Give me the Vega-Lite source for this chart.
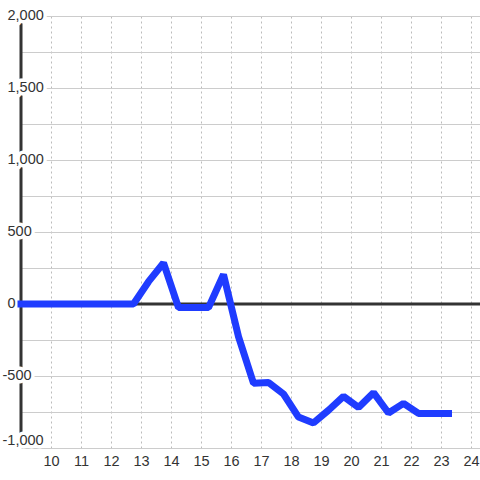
{
  "$schema": "https://vega.github.io/schema/vega-lite/v6.json",
  "width": 459,
  "height": 432,
  "autosize": "none",
  "padding": {"left": 21, "top": 16, "right": 0, "bottom": 32},
  "background": "white",
  "config": {"view": {"stroke": null}},
  "datasets": {
    "series": [
      {"t": 9.0, "v": 0},
      {"t": 9.25, "v": 0},
      {"t": 9.75, "v": 0},
      {"t": 10.25, "v": 0},
      {"t": 10.75, "v": 0},
      {"t": 11.25, "v": 0},
      {"t": 11.75, "v": 0},
      {"t": 12.25, "v": 0},
      {"t": 12.75, "v": 0},
      {"t": 13.25, "v": 155},
      {"t": 13.75, "v": 285},
      {"t": 14.25, "v": -25},
      {"t": 14.75, "v": -25},
      {"t": 15.25, "v": -25},
      {"t": 15.75, "v": 205},
      {"t": 16.25, "v": -227},
      {"t": 16.75, "v": -550},
      {"t": 17.25, "v": -545},
      {"t": 17.75, "v": -625},
      {"t": 18.25, "v": -785},
      {"t": 18.75, "v": -826},
      {"t": 19.25, "v": -738},
      {"t": 19.75, "v": -642},
      {"t": 20.25, "v": -718},
      {"t": 20.75, "v": -616},
      {"t": 21.25, "v": -757},
      {"t": 21.75, "v": -690},
      {"t": 22.25, "v": -760},
      {"t": 22.75, "v": -760},
      {"t": 23.25, "v": -760}
    ],
    "yticks": [
      {"v": -1000, "label": "-1,000"},
      {"v": -500, "label": "-500"},
      {"v": 0, "label": "0"},
      {"v": 500, "label": "500"},
      {"v": 1000, "label": "1,000"},
      {"v": 1500, "label": "1,500"},
      {"v": 2000, "label": "2,000"}
    ]
  },
  "encoding": {
    "x": {
      "type": "quantitative",
      "scale": {"domain": [9, 24.3], "nice": false, "zero": false},
      "axis": {
        "title": null,
        "values": [10, 11, 12, 13, 14, 15, 16, 17, 18, 19, 20, 21, 22, 23, 24],
        "grid": true,
        "gridDash": [2, 3],
        "gridColor": "#bbbbbb",
        "ticks": false,
        "domain": false,
        "labelPadding": 6,
        "labelFont": "Liberation Sans",
        "labelFontSize": 14.5,
        "labelColor": "#333333"
      }
    },
    "y": {
      "type": "quantitative",
      "scale": {"domain": [-1000, 2000], "nice": false, "zero": false},
      "axis": {
        "title": null,
        "values": [-1000, -750, -500, -250, 0, 250, 500, 750, 1000, 1250, 1500, 1750, 2000],
        "grid": true,
        "gridColor": "#cccccc",
        "labels": false,
        "ticks": false,
        "domain": false
      }
    }
  },
  "layer": [
    {
      "data": {"values": [{}]},
      "mark": {"type": "rule", "color": "#333333", "strokeWidth": 3},
      "encoding": {"y": {"datum": 0, "type": "quantitative"}}
    },
    {
      "data": {"values": [{}]},
      "mark": {"type": "rule", "color": "#333333", "strokeWidth": 3},
      "encoding": {"x": {"datum": 9, "type": "quantitative"}}
    },
    {
      "data": {"name": "yticks"},
      "mark": {
        "type": "text",
        "align": "left",
        "dx": {"expr": "datum.v < 0 ? -18.5 : -13.5"},
        "baseline": {"expr": "datum.v == -1000 ? 'bottom' : 'middle'"},
        "font": "Liberation Sans",
        "fontSize": 14.5,
        "color": "white",
        "stroke": "white",
        "strokeWidth": 7,
        "strokeJoin": "round"
      },
      "encoding": {
        "x": {"datum": 9, "type": "quantitative"},
        "y": {"field": "v", "type": "quantitative"},
        "text": {"field": "label", "type": "nominal"}
      }
    },
    {
      "data": {"name": "yticks"},
      "mark": {
        "type": "text",
        "align": "left",
        "dx": {"expr": "datum.v < 0 ? -18.5 : -13.5"},
        "baseline": {"expr": "datum.v == -1000 ? 'bottom' : 'middle'"},
        "font": "Liberation Sans",
        "fontSize": 14.5,
        "color": "#333333"
      },
      "encoding": {
        "x": {"datum": 9, "type": "quantitative"},
        "y": {"field": "v", "type": "quantitative"},
        "text": {"field": "label", "type": "nominal"}
      }
    },
    {
      "data": {"name": "series"},
      "mark": {
        "type": "line",
        "color": "#1f3cff",
        "strokeWidth": 7,
        "strokeCap": "square",
        "strokeJoin": "bevel"
      },
      "encoding": {
        "x": {"field": "t", "type": "quantitative"},
        "y": {"field": "v", "type": "quantitative"}
      }
    }
  ]
}
